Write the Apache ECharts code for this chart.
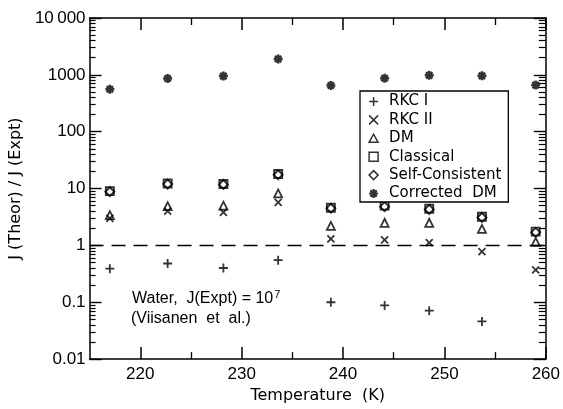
<!DOCTYPE html>
<html>
<head>
<meta charset="utf-8">
<script src="https://cdn.jsdelivr.net/npm/echarts@6/dist/echarts.min.js"></script>
<style>
  html, body { margin: 0; padding: 0; background: #fff; }
  #chart { width: 563px; height: 409px; }
</style>
</head>
<body>
<div id="chart"></div>
<script>
// ---- data ----
const temperatures = [217.0, 222.7, 228.2, 233.6, 238.8, 244.1, 248.5, 253.7, 259.0];
const rkc1 = [0.39, 0.48, 0.40, 0.55, 0.10, 0.088, 0.071, 0.046, null];
const rkc2 = [3.0, 4.0, 3.8, 5.7, 1.3, 1.25, 1.12, 0.78, 0.37];
const dm = [3.4, 4.9, 5.0, 8.2, 2.2, 2.5, 2.5, 1.95, 1.15];
const classical = [9.0, 12.3, 12.0, 18.0, 4.6, 5.0, 4.4, 3.2, 1.75];
const selfConsistent = [8.8, 12.0, 11.8, 17.5, 4.5, 4.8, 4.3, 3.1, 1.7];
const correctedDM = [560, 860, 950, 1900, 650, 870, 980, 960, 660];
const referenceLevel = 1;

// ---- ticks ----
const xMajorTicks = [220, 230, 240, 250, 260];
const xMinorTicks = [225, 235, 245, 255];
const yDecades = [0.01, 0.1, 1, 10, 100, 1000, 10000];
const yMinorSteps = [2, 3, 4, 5, 6, 7, 8, 9];
const yLabels = ['0.01', '0.1', '1', '10', '100', '1000', '10\u2009000'];

const yMinorTicks = [];
yDecades.slice(0, -1).forEach(d => yMinorSteps.forEach(k => yMinorTicks.push(+(d * k).toPrecision(3))));

const pair = vals => temperatures.map((t, i) => [t, vals[i]]).filter(p => p[1] != null);

const SYM = {
    plus: 'path://M5,0 L5,10 M0,5 L10,5',
    cross: 'path://M0,0 L10,10 M10,0 L0,10',
    tri: 'path://M5,0 L10,9 L0,9 Z',
    rect: 'path://M0,0 L10,0 L10,10 L0,10 Z',
    diamond: 'path://M5,0 L10,5 L5,10 L0,5 Z',
    star: 'path://M5,0 L5,10 M0,5 L10,5 M1.5,1.5 L8.5,8.5 M8.5,1.5 L1.5,8.5'
};

const ink = '#000';
const tickFont = { fontFamily: 'Liberation Sans', fontSize: 17, color: ink };

function scatter(name, vals, symbol, size, width) {
    return {
        name: name,
        type: 'scatter',
        data: pair(vals),
        symbol: symbol,
        symbolSize: size,
        itemStyle: { color: 'rgba(0,0,0,0)', borderColor: ink, borderWidth: width },
        emphasis: { disabled: true }
    };
}

const yBase = {
    type: 'log', logBase: 10, min: 0.01, max: 10000,
    splitLine: { show: false }
};
const xBase = {
    type: 'value', min: 215, max: 260,
    splitLine: { show: false }
};

const series = [
    scatter('RKC I', rkc1, SYM.plus, 9, 1.8),
    scatter('RKC II', rkc2, SYM.cross, 7, 1.8),
    scatter('DM', dm, SYM.tri, 8, 1.8),
    scatter('Classical', classical, SYM.rect, 8, 1.9),
    scatter('Self-Consistent', selfConsistent, SYM.diamond, 9, 1.9),
    scatter('Corrected DM', correctedDM, SYM.star, 9, 2.5)
];
series[0].markLine = {
    silent: true,
    symbol: 'none',
    label: { show: false },
    lineStyle: { color: ink, width: 1.4, type: [14, 8] },
    data: [{ yAxis: referenceLevel }]
};

const legendItems = series.map(s => ({
    name: s.name,
    icon: s.symbol,
    itemStyle: { color: 'rgba(0,0,0,0)', borderColor: ink, borderWidth: s.name === 'Corrected DM' ? 2.2 : 1.5 }
}));

const chart = echarts.init(document.getElementById('chart'));
chart.setOption({
    animation: false,
    backgroundColor: '#fff',
    grid: { left: 85, right: 16, top: 18, bottom: 47 },
    legend: {
        data: legendItems,
        orient: 'vertical',
        left: 360,
        top: 91,
        padding: [3, 7, 1, 8],
        itemWidth: 9,
        itemHeight: 9,
        itemGap: 3.4,
        borderColor: ink,
        borderWidth: 1.3,
        backgroundColor: '#fff',
        selectedMode: false,
        textStyle: { fontFamily: 'DejaVu Sans', fontSize: 15, color: ink, padding: [0, 0, 0, 6] },
        formatter: n => n === 'Corrected DM' ? 'Corrected  DM' : n
    },
    xAxis: [
        Object.assign({}, xBase, {
            position: 'bottom',
            name: 'Temperature  (K)',
            nameLocation: 'middle',
            nameGap: 27,
            nameTextStyle: { fontFamily: 'DejaVu Sans', fontSize: 16, color: ink },
            axisLine: { lineStyle: { color: ink, width: 1.5 } },
            axisTick: { inside: true, length: 12, customValues: xMajorTicks, lineStyle: { color: ink, width: 1.5 } },
            axisLabel: Object.assign({ margin: 7, customValues: xMajorTicks }, tickFont)
        }),
        Object.assign({}, xBase, {
            position: 'bottom',
            axisLine: { show: false },
            axisTick: { inside: true, length: 7, customValues: xMinorTicks, lineStyle: { color: ink, width: 1.3 } },
            axisLabel: { show: false }
        }),
        Object.assign({}, xBase, {
            position: 'top',
            axisLine: { lineStyle: { color: ink, width: 1.5 } },
            axisTick: { inside: true, length: 12, customValues: xMajorTicks, lineStyle: { color: ink, width: 1.5 } },
            axisLabel: { show: false }
        }),
        Object.assign({}, xBase, {
            position: 'top',
            axisLine: { show: false },
            axisTick: { inside: true, length: 7, customValues: xMinorTicks, lineStyle: { color: ink, width: 1.3 } },
            axisLabel: { show: false }
        })
    ],
    yAxis: [
        Object.assign({}, yBase, {
            position: 'left',
            name: 'J (Theor) / J (Expt)',
            nameLocation: 'middle',
            nameGap: 50,
            nameTextStyle: { fontFamily: 'DejaVu Sans', fontSize: 16, color: ink },
            axisLine: { lineStyle: { color: ink, width: 1.5 } },
            axisTick: { inside: true, length: 12, customValues: yDecades, lineStyle: { color: ink, width: 1.4 } },
            axisLabel: Object.assign({
                margin: 4,
                customValues: yDecades,
                formatter: v => yLabels[yDecades.findIndex(d => Math.abs(d - v) / d < 1e-6)]
            }, tickFont)
        }),
        Object.assign({}, yBase, {
            position: 'left',
            axisLine: { show: false },
            axisTick: { inside: true, length: 6, customValues: yMinorTicks, lineStyle: { color: ink, width: 1.2 } },
            axisLabel: { show: false }
        }),
        Object.assign({}, yBase, {
            position: 'right',
            axisLine: { show: true, lineStyle: { color: ink, width: 1.5 } },
            axisTick: { inside: true, length: 12, customValues: yDecades, lineStyle: { color: ink, width: 1.4 } },
            axisLabel: { show: false }
        }),
        Object.assign({}, yBase, {
            position: 'right',
            axisLine: { show: false },
            axisTick: { inside: true, length: 7, customValues: yMinorTicks, lineStyle: { color: ink, width: 1.2 } },
            axisLabel: { show: false }
        })
    ],
    graphic: [
        {
            type: 'text',
            left: 132,
            top: 289,
            style: {
                text: '{m|Water,  J(Expt) = 10}{s|7}',
                rich: {
                    m: { fontFamily: 'Liberation Sans', fontSize: 16, fill: ink, lineHeight: 20 },
                    s: { fontFamily: 'Liberation Sans', fontSize: 11, fill: ink, lineHeight: 20, padding: [0, 0, 9, 1] }
                }
            }
        },
        {
            type: 'text',
            left: 131,
            top: 311,
            style: {
                text: '(Viisanen  et  al.)',
                fontFamily: 'Liberation Sans',
                fontSize: 16,
                fill: ink
            }
        }
    ],
    series: series
});
</script>
</body>
</html>
